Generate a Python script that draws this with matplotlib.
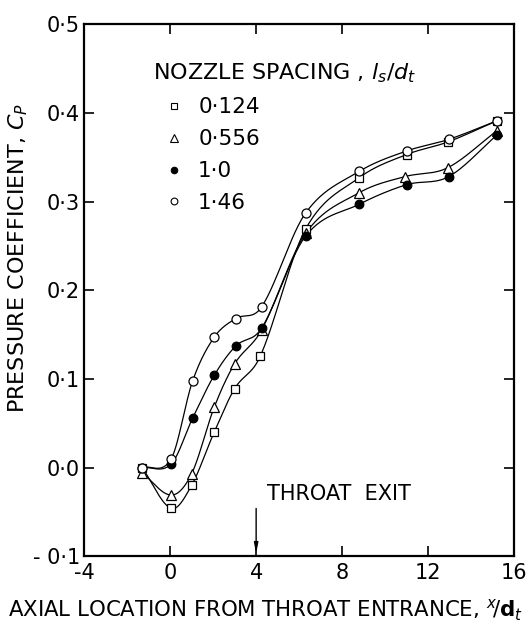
import numpy as np
import matplotlib.pyplot as plt
from matplotlib.lines import Line2D

# axial stations (x/dt) and pressure coefficient for each nozzle spacing
x_sq = [-1.3, 0.05, 1.0, 2.05, 3.0, 4.2, 6.3, 8.8, 11.0, 12.9, 15.2]
cp_sq = [0.0, -0.046, -0.020, 0.040, 0.089, 0.126, 0.269, 0.327, 0.353, 0.367, 0.391]

x_tri = [-1.3, 0.05, 1.0, 2.05, 3.0, 4.25, 6.3, 8.8, 10.9, 12.9, 15.2]
cp_tri = [-0.006, -0.031, -0.007, 0.068, 0.117, 0.155, 0.264, 0.310, 0.328, 0.338, 0.380]

x_fil = [-1.3, 0.05, 1.05, 2.05, 3.05, 4.25, 6.3, 8.8, 11.0, 12.95, 15.2]
cp_fil = [0.0, 0.004, 0.056, 0.104, 0.137, 0.157, 0.261, 0.297, 0.319, 0.328, 0.375]

x_opn = [-1.3, 0.05, 1.05, 2.05, 3.05, 4.25, 6.3, 8.8, 11.0, 12.95, 15.2]
cp_opn = [0.0, 0.010, 0.098, 0.147, 0.168, 0.181, 0.287, 0.334, 0.357, 0.370, 0.391]

spacing_labels = ["0·124", "0·556", "1·0", "1·46"]
xticks = [-4, 0, 4, 8, 12, 16]
yticks = [-0.1, 0.0, 0.1, 0.2, 0.3, 0.4, 0.5]
ytick_labels = ["- 0·1", "0·0", "0·1", "0·2", "0·3", "0·4", "0·5"]


def faired(x, y, n=30):
    # cubic hermite curve with centred-difference slopes through the points
    x = np.asarray(x, float)
    y = np.asarray(y, float)
    h = np.diff(x)
    m = np.empty_like(y)
    m[1:-1] = (y[2:] - y[:-2]) / (x[2:] - x[:-2])
    m[0] = (y[1] - y[0]) / h[0]
    m[-1] = (y[-1] - y[-2]) / h[-1]
    t = np.linspace(0, 1, n)
    h00 = 2 * t**3 - 3 * t**2 + 1
    h10 = t**3 - 2 * t**2 + t
    h01 = -2 * t**3 + 3 * t**2
    h11 = t**3 - t**2
    xs, ys = [], []
    for k in range(len(h)):
        xs.append(x[k] + t * h[k])
        ys.append(h00 * y[k] + h10 * h[k] * m[k] + h01 * y[k + 1] + h11 * h[k] * m[k + 1])
    return np.concatenate(xs), np.concatenate(ys)


fig = plt.figure(figsize=(5.29, 6.35), dpi=100)
ax = fig.add_axes([0.159, 0.124, 0.813, 0.838])

series = [
    (x_sq, cp_sq, dict(marker="s", mfc="white", ms=6.0)),
    (x_tri, cp_tri, dict(marker="^", mfc="white", ms=6.8)),
    (x_fil, cp_fil, dict(marker="o", mfc="black", ms=6.2)),
    (x_opn, cp_opn, dict(marker="o", mfc="white", ms=6.5)),
]

for xs, ys, st in series:
    sx, sy = faired(xs, ys)
    ax.plot(sx, sy, color="black", lw=0.9, zorder=2)
    ax.plot(xs, ys, ls="none", mec="black", mew=0.9, zorder=3, **st)

ax.set_xlim(-4, 16)
ax.set_ylim(-0.1, 0.5)
ax.set_xticks(xticks)
ax.set_xticklabels([str(v) for v in xticks])
ax.set_yticks(yticks)
ax.set_yticklabels(ytick_labels)
ax.tick_params(direction="in", length=7, width=1.2, labelsize=15,
               top=True, right=True, pad=5)
ax.tick_params(axis="y", pad=3)
for s in ax.spines.values():
    s.set_linewidth(1.6)

ax.set_ylabel(r"PRESSURE COEFFICIENT, $C_P$", fontsize=16, labelpad=2, y=0.56)
fig.text(8 / 529, 1 - 610 / 635,
         r"AXIAL LOCATION FROM THROAT ENTRANCE, $^x\!/\mathbf{d}_t$",
         fontsize=15.3, ha="left", va="center")

# throat exit marker
ax.annotate("", xy=(4.0, -0.1), xytext=(4.0, -0.043),
            arrowprops=dict(arrowstyle="-|>,head_length=0.6,head_width=0.12",
                            color="black", lw=1.0))
ax.text(4.5, -0.03, "THROAT  EXIT", fontsize=15, va="center", ha="left")

handles = [Line2D([], [], ls="none", mec="black", mew=0.8,
                  **dict(st, ms=st["ms"] * 0.75)) for _, _, st in series]
leg = ax.legend(handles, spacing_labels, loc="upper left",
                bbox_to_anchor=(0.16, 0.93), frameon=False, fontsize=15.5,
                title=r"NOZZLE SPACING , $l_s/d_t$", title_fontsize=16,
                alignment="left", handlelength=2.0, handletextpad=0.1,
                labelspacing=0.55, borderpad=0, borderaxespad=0)
leg._legend_box.sep = 9

fig.savefig("out.png", dpi=100)
